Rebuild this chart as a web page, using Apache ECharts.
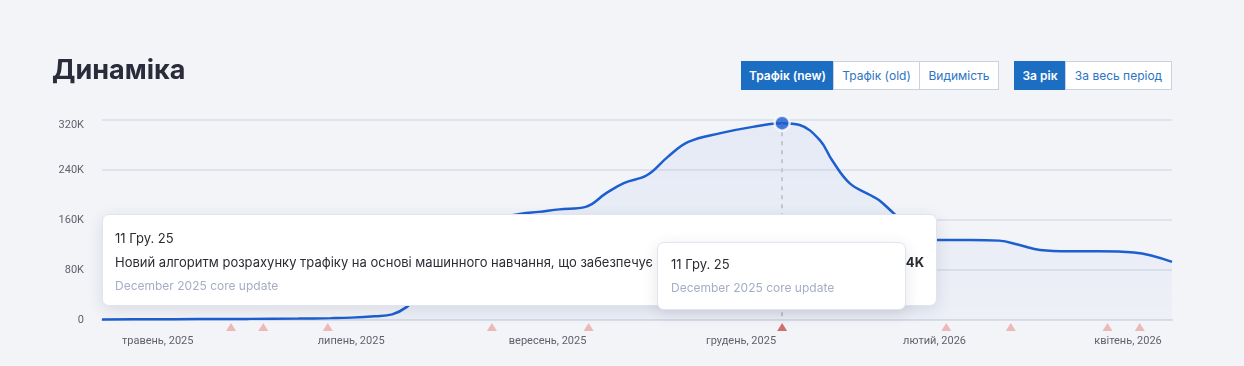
<!DOCTYPE html>
<html><head><meta charset="utf-8">
<script src="https://cdn.jsdelivr.net/npm/echarts@6/dist/echarts.min.js"></script>
<style>
html,body{margin:0;padding:0;background:#f3f4f8;width:1244px;height:366px;overflow:hidden;font-family:Inter,'Noto Sans',sans-serif;}
#chart{position:absolute;left:0;top:0;width:1244px;height:366px;}
.title{position:absolute;left:52px;top:50px;font-size:27px;font-weight:700;color:#2a2c3b;line-height:40px;}
.btns{position:absolute;top:61px;height:29px;display:flex;}
.btn{box-sizing:border-box;height:29px;line-height:27px;border:1px solid #c8d2e3;background:#fff;color:#2d74c4;font-size:12px;text-align:center;margin-left:-1px;white-space:nowrap;}
.btn.active{background:#1b6ec2;border-color:#1b6ec2;color:#fff;font-weight:600;}
.tip{position:absolute;box-sizing:border-box;background:#fff;border:1px solid #dfe4ee;border-radius:7px;box-shadow:0 4px 16px rgba(30,40,70,.12);font-size:13px;color:#2b2c33;z-index:5;}
.tip .l{line-height:24px;white-space:nowrap;overflow:hidden;}
.tip .sub{color:#a6adc5;font-size:12px;}
.tip .val{position:absolute;right:12px;font-weight:700;line-height:24px;}
</style></head>
<body>
<div id="chart"></div>
<div class="title">Динаміка</div>
<div class="btns" style="left:742px">
  <div class="btn active" style="width:93px">Трафік (new)</div>
  <div class="btn" style="width:87px">Трафік (old)</div>
  <div class="btn" style="width:80px">Видимість</div>
</div>
<div class="btns" style="left:1015px">
  <div class="btn active" style="width:52px">За рік</div>
  <div class="btn" style="width:107px">За весь період</div>
</div>
<div class="tip" style="left:102px;top:214px;width:835px;height:92px;padding:11px 12px;">
  <div class="l">11 Гру. 25</div>
  <div class="l" style="width:760px">Новий алгоритм розрахунку трафіку на основі машинного навчання, що забезпечує більш точні оцінки</div>
  <div class="val" style="top:35px">314K</div>
  <div class="l sub">December 2025 core update</div>
</div>
<div class="tip" style="left:657px;top:242px;width:249px;height:68px;padding:9px 13px;">
  <div class="l">11 Гру. 25</div>
  <div class="l sub">December 2025 core update</div>
</div>
<script>
const startDate = '2025-04-23';
const endDate = '2026-04-23';
const dates = ['2025-04-23','2025-05-09','2025-05-26','2025-06-12','2025-06-29','2025-07-10','2025-07-17','2025-07-25','2025-07-31','2025-08-05','2025-08-09','2025-08-16','2025-08-23','2025-08-30','2025-09-06','2025-09-13','2025-09-19','2025-09-26','2025-10-05','2025-10-12','2025-10-18','2025-10-26','2025-11-02','2025-11-09','2025-11-20','2025-12-01','2025-12-11','2025-12-17','2025-12-24','2025-12-28','2026-01-03','2026-01-10','2026-01-13','2026-01-18','2026-01-25','2026-02-02','2026-02-13','2026-02-23','2026-03-02','2026-03-09','2026-03-19','2026-03-29','2026-04-10','2026-04-23'];
const traffic = [1000,1200,1500,1800,2300,3000,3800,6000,9000,21000,40000,80000,120000,148000,163000,170000,173000,177000,181000,203000,219000,232000,261000,285000,299000,309000,315000,312000,287000,256000,219000,200000,192000,171000,142000,128000,128000,127000,120000,112000,110000,110000,108000,93000];
const tickDates = ['2025-05-12','2025-07-17','2025-09-22','2025-11-27','2026-02-01','2026-04-08'];
const tickLabels = ['травень, 2025','липень, 2025','вересень, 2025','грудень, 2025','лютий, 2026','квітень, 2026'];
const eventDates = ['2025-06-06','2025-06-17','2025-07-09','2025-09-03','2025-10-06','2025-12-11','2026-02-05','2026-02-27','2026-04-01','2026-04-12'];
const selectedDate = '2025-12-11';

const day = s => (Date.parse(s) - Date.parse(startDate)) / 864e5;
const tickDays = tickDates.map(day);
const lineData = dates.map((d, i) => [day(d), traffic[i]]);
const selIdx = dates.indexOf(selectedDate);
const selPoint = [day(selectedDate), traffic[selIdx]];
const yMax = 320000;

const chart = echarts.init(document.getElementById('chart'), null, {renderer: 'canvas'});
chart.setOption({
  animation: false,
  backgroundColor: 'transparent',
  grid: {left: 102, right: 72, top: 120, bottom: 46},
  xAxis: {
    type: 'value', min: 0, max: day(endDate),
    splitLine: {show: false},
    axisTick: {show: false},
    axisLine: {show: true, lineStyle: {color: '#d9dde8', width: 2}},
    axisLabel: {
      customValues: tickDays,
      margin: 16,
      color: '#5f626c', fontSize: 11, fontFamily: 'Roboto',
      formatter: v => {
        let best = 0;
        tickDays.forEach((t, i) => { if (Math.abs(t - v) < Math.abs(tickDays[best] - v)) best = i; });
        return tickLabels[best];
      }
    }
  },
  yAxis: {
    type: 'value', min: 0, max: yMax, interval: 80000,
    axisLine: {show: false}, axisTick: {show: false},
    splitLine: {lineStyle: {color: '#dfe3ec', width: 2}},
    axisLabel: {
      margin: 18, color: '#5f626c', fontSize: 11, fontFamily: 'Roboto',
      rich: {top: {padding: [10, 0, 0, 0], color: '#5f626c', fontSize: 11, fontFamily: 'Roboto'}},
      formatter: v => v === 0 ? '0' : (v === yMax ? '{top|' + (v / 1000) + 'K}' : (v / 1000) + 'K')
    }
  },
  series: [
    {
      type: 'line', data: lineData, smooth: 0.4, showSymbol: false,
      lineStyle: {color: '#1d5fd0', width: 2.5},
      areaStyle: {color: new echarts.graphic.LinearGradient(0, 0, 0, 1, [
        {offset: 0, color: 'rgba(40,100,210,0.09)'},
        {offset: 1, color: 'rgba(40,100,210,0.04)'}
      ])},
      markLine: {
        silent: true, symbol: 'none', label: {show: false},
        lineStyle: {color: '#c2c6d0', type: [4, 5], width: 2},
        data: [[{coord: selPoint}, {coord: [selPoint[0], 0]}]]
      },
      z: 3
    },
    {
      type: 'scatter', data: [selPoint], symbolSize: 15,
      itemStyle: {color: '#1c5ccf', borderColor: '#fff', borderWidth: 2.5},
      z: 6
    },
    {
      type: 'scatter', symbol: 'triangle', symbolSize: [10, 8], symbolOffset: [0, 7], clip: false,
      data: eventDates.map(d => ({value: [day(d), 0], itemStyle: {color: d === selectedDate ? '#c64e4e' : '#eaa9a7'}})),
      z: 4
    }
  ]
});
</script>
</body></html>
